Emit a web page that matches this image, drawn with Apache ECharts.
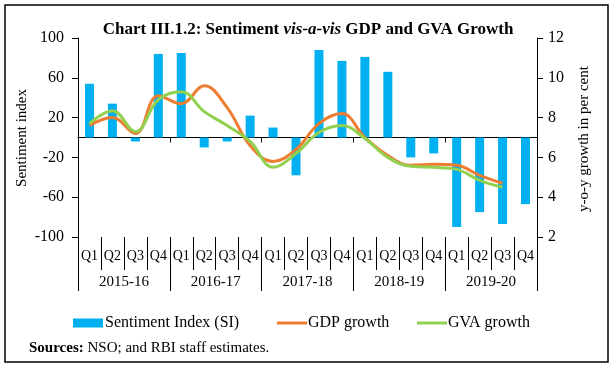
<!DOCTYPE html>
<html>
<head>
<meta charset="utf-8">
<script src="https://cdn.jsdelivr.net/npm/echarts@6/dist/echarts.min.js"></script>
<style>html,body{margin:0;padding:0;background:#fff;}#c{width:613px;height:367px;}</style>
</head>
<body>
<div id="c"></div>
<script>
var years = ['2015-16', '2016-17', '2017-18', '2018-19', '2019-20'];
var quarters = ['Q1', 'Q2', 'Q3', 'Q4'];
var sentimentIndex = [54, 34, -4, 84, 85, -10, -4, 22, 10, -38, 88, 77, 81, 66, -20, -16, -90, -75, -87, -67];
var gdpGrowth = [7.6, 8.0, 7.2, 9.1, 8.7, 9.6, 8.5, 6.6, 5.8, 6.4, 7.7, 8.2, 7.0, 6.1, 5.6, 5.65, 5.6, 5.1, 4.7, null];
var gvaGrowth = [7.7, 8.35, 7.3, 8.9, 9.3, 8.3, 7.6, 6.8, 5.5, 6.2, 7.25, 7.6, 6.95, 6.0, 5.55, 5.5, 5.4, 4.85, 4.5, null];
var leftTicks = [-100, 100, 40];
var rightTicks = [2, 12, 2];

var categories = [];
years.forEach(function (y) { quarters.forEach(function (q) { categories.push(q + ' ' + y); }); });

var FONT = 'Liberation Serif';
var chart = echarts.init(document.getElementById('c'));
chart.setOption({
  animation: false,
  backgroundColor: '#fff',
  title: {
    text: '{b|Chart III.1.2: Sentiment }{bi|vis-a-vis}{b| GDP and GVA Growth}',
    left: 303, top: 16, textAlign: 'center',
    textStyle: {
      rich: {
        b: { fontFamily: FONT, fontWeight: 'bold', fontSize: 17, color: '#000' },
        bi: { fontFamily: FONT, fontWeight: 'bold', fontStyle: 'italic', fontSize: 17, color: '#000' }
      }
    }
  },
  grid: { left: 78, right: 76, top: 38, bottom: 130 },
  legend: [
    { left: 68, top: 310, itemWidth: 30, itemHeight: 9, itemGap: 0,
      textStyle: { fontFamily: FONT, fontSize: 16, color: '#000', padding: [0, 0, 0, -3] },
      data: [{ name: 'Sentiment Index (SI)', icon: 'rect' }] },
    { left: 272, top: 310, itemWidth: 30, itemHeight: 3, itemGap: 0,
      textStyle: { fontFamily: FONT, fontSize: 16, color: '#000', padding: [0, 0, 0, -4] },
      data: [{ name: 'GDP growth', icon: 'rect' }] },
    { left: 412, top: 310, itemWidth: 30, itemHeight: 3, itemGap: 0,
      textStyle: { fontFamily: FONT, fontSize: 16, color: '#000', padding: [0, 0, 0, -4] },
      data: [{ name: 'GVA growth', icon: 'rect' }] }
  ],
  xAxis: [
    { type: 'category', data: categories, gridIndex: 0,
      axisLine: { onZero: true, lineStyle: { color: '#000', width: 1 } },
      axisTick: { show: true, length: 5, lineStyle: { color: '#000' } },
      axisLabel: { show: false }, splitLine: { show: false } },
    { type: 'category', data: categories, position: 'bottom',
      axisLine: { show: false, onZero: false },
      axisTick: { show: true, length: 33, lineStyle: { color: '#000' } },
      axisLabel: { interval: 0, margin: 12, fontFamily: FONT, fontSize: 14, color: '#000',
        formatter: function (v) { return v.split(' ')[0]; } },
      splitLine: { show: false } },
    { type: 'category', data: years, position: 'bottom',
      axisLine: { show: false, onZero: false },
      axisTick: { show: true, length: 54, lineStyle: { color: '#000' } },
      axisLabel: { interval: 0, margin: 38, fontFamily: FONT, fontSize: 15, color: '#000' },
      splitLine: { show: false } }
  ],
  yAxis: [
    { type: 'value', min: leftTicks[0], max: leftTicks[1], interval: leftTicks[2], position: 'left',
      axisLine: { show: true, lineStyle: { color: '#000' } },
      axisTick: { show: true, length: 6, lineStyle: { color: '#000' } },
      axisLabel: { margin: 14, fontFamily: FONT, fontSize: 16, color: '#000' },
      splitLine: { show: false } },
    { type: 'value', min: rightTicks[0], max: rightTicks[1], interval: rightTicks[2], position: 'right',
      axisLine: { show: true, lineStyle: { color: '#000' } },
      axisTick: { show: true, length: 6, lineStyle: { color: '#000' } },
      axisLabel: { margin: 11, fontFamily: FONT, fontSize: 16, color: '#000' },
      splitLine: { show: false } }
  ],
  series: [
    { name: 'Sentiment Index (SI)', type: 'bar', xAxisIndex: 0, yAxisIndex: 0,
      data: sentimentIndex, barWidth: 9, itemStyle: { color: '#00B0F0' } },
    { name: 'GDP growth', type: 'line', xAxisIndex: 0, yAxisIndex: 1, data: gdpGrowth,
      smooth: 0.4, symbol: 'none', showSymbol: false,
      lineStyle: { color: '#ED7D31', width: 3 }, itemStyle: { color: '#ED7D31' } },
    { name: 'GVA growth', type: 'line', xAxisIndex: 0, yAxisIndex: 1, data: gvaGrowth,
      smooth: 0.4, symbol: 'none', showSymbol: false,
      lineStyle: { color: '#92D050', width: 3 }, itemStyle: { color: '#92D050' } }
  ],
  graphic: [
    { type: 'rect', shape: { x: 5, y: 5, width: 603, height: 357 }, silent: true,
      style: { fill: 'none', stroke: '#000', lineWidth: 1.5 } },
    { type: 'text', x: 22, y: 138, rotation: Math.PI / 2, silent: true,
      style: { text: 'Sentiment index', fontFamily: FONT, fontSize: 15, fill: '#000', align: 'center', verticalAlign: 'middle' } },
    { type: 'text', x: 584, y: 139, rotation: Math.PI / 2, silent: true,
      style: { text: 'y-o-y growth in per cent', fontFamily: FONT, fontSize: 15, fill: '#000', align: 'center', verticalAlign: 'middle' } },
    { type: 'text', x: 29, y: 348, silent: true,
      style: { text: '{b|Sources:}{n| NSO; and RBI staff estimates.}', verticalAlign: 'middle',
        rich: { b: { fontFamily: FONT, fontWeight: 'bold', fontSize: 15, fill: '#000' },
                n: { fontFamily: FONT, fontSize: 15, fill: '#000' } } } }
  ]
});
</script>
</body>
</html>
